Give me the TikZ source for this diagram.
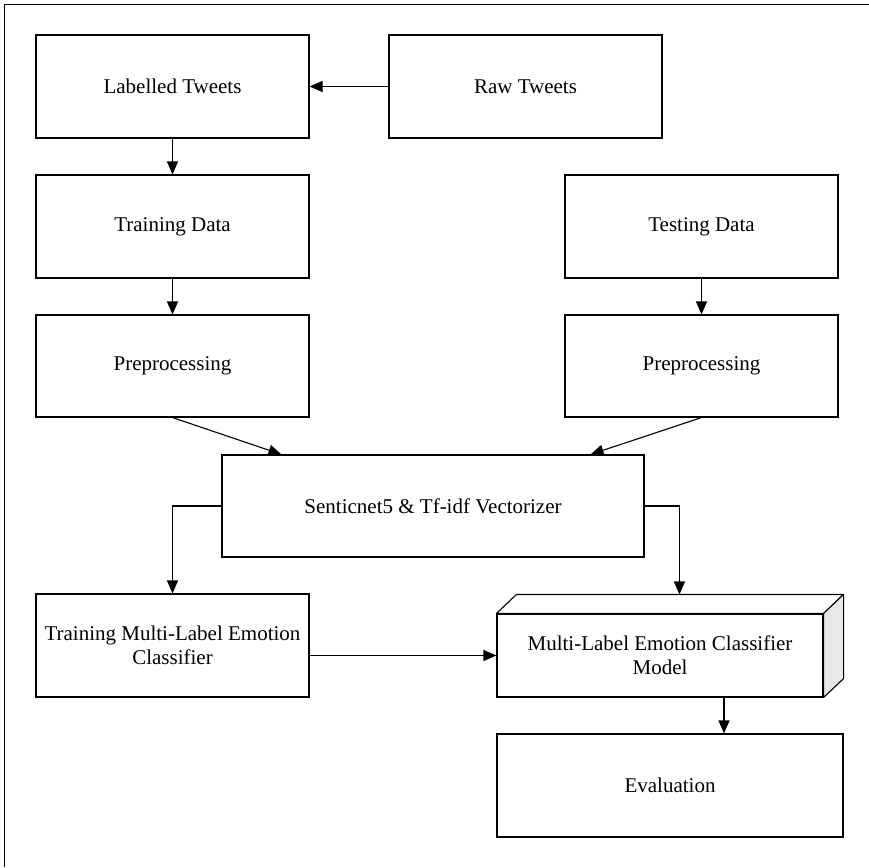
\documentclass[tikz,border=0pt]{standalone}
\usepackage{fontspec}
\setmainfont{Liberation Serif}
\usetikzlibrary{arrows.meta,calc}
\definecolor{sidegray}{HTML}{E8E8E8}
\begin{document}
\begin{tikzpicture}[x=1pt,y=-1pt,
  box/.style={draw=black,line width=1.1pt,fill=white,inner sep=0pt,
    minimum height=103pt,align=center,
    font=\fontsize{21}{24}\selectfont},
  flow/.style={draw=black,line width=1.1pt,
    -{Triangle[length=13pt,width=11pt]}},
  frameline/.style={draw=black,line width=1.5pt}]
\useasboundingbox (0,0) rectangle (869,867);
% page frame (left and top edges)
\draw[frameline] (4.5,867) -- (4.5,4.5) -- (869,4.5);

% boxes
\node[box,minimum width=273pt] (lab)   at (172.5,86.5)  {Labelled Tweets};
\node[box,minimum width=273pt] (raw)   at (525.5,86.5)  {Raw Tweets};
\node[box,minimum width=273pt] (train) at (172.5,226.5) {Training Data};
\node[box,minimum width=273pt] (test)  at (701.5,226.5) {Testing Data};
\node[box,minimum width=273pt,minimum height=102pt] (preA) at (172.5,366) {Preprocessing};
\node[box,minimum width=273pt,minimum height=102pt] (preB) at (701.5,366) {Preprocessing};
\node[box,minimum width=422pt,minimum height=102pt] (senti) at (433,506) {Senticnet5 \& Tf-idf Vectorizer};
\node[box,minimum width=273pt] (clf) at (172.5,645.5) {Training Multi-Label Emotion\\Classifier};
\node[box,minimum width=346pt] (eval) at (670,785.5) {Evaluation};

% 3-D box: front face, top face and shaded right face
\node[box,minimum width=326pt,minimum height=83pt] (model) at (660,655.5) {Multi-Label Emotion Classifier\\Model};
\draw[line width=1.1pt,fill=white,line join=round]
  (model.north west) -- ++(20,-19) -- ($(model.north east)+(20,-19)$) -- (model.north east) -- cycle;
\draw[line width=1.1pt,fill=sidegray,line join=round]
  (model.north east) -- ++(20,-19) -- ($(model.south east)+(20,-19)$) -- (model.south east) -- cycle;
\coordinate (mtop) at ($(model.north west)+(183,-19)$);
\coordinate (mout) at ($(model.south)+(64,0)$);

% connectors
\draw[flow] (raw.west) -- (lab.east);
\draw[flow] (lab.south) -- (train.north);
\draw[flow] (train.south) -- (preA.north);
\draw[flow] (test.south) -- (preB.north);
\draw[flow] (preA.south) -- ($(senti.north west)+(60,0)$);
\draw[flow] (preB.south) -- ($(senti.north east)+(-54,0)$);
\draw[flow] (senti.west) -| (clf.north);
\draw[flow] (senti.east) -| (mtop);
\draw[flow] (model.west -| clf.east) -- (model.west);
\draw[flow] (mout) -- (mout |- eval.north);
\end{tikzpicture}
\end{document}
